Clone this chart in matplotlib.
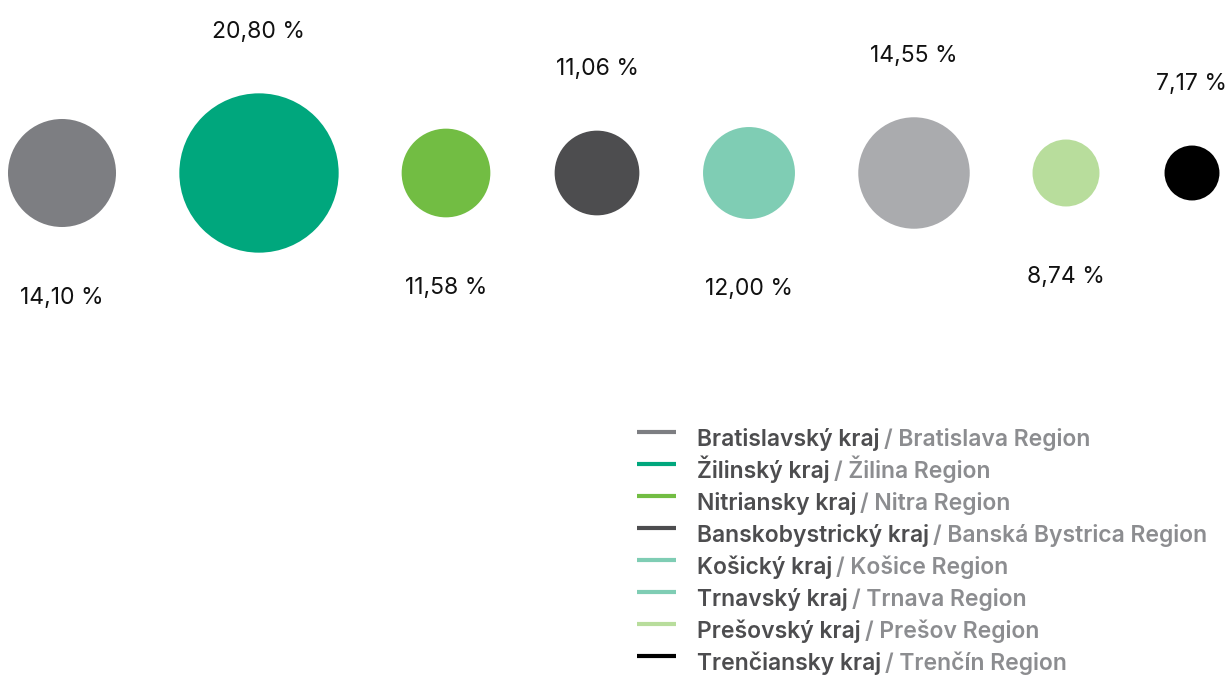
import matplotlib.pyplot as plt
from matplotlib.patches import Circle

# data
regions_sk = ["Bratislavský kraj", "Žilinský kraj", "Nitriansky kraj", "Banskobystrický kraj",
              "Košický kraj", "Trnavský kraj", "Prešovský kraj", "Trenčiansky kraj"]
regions_en = ["Bratislava Region", "Žilina Region", "Nitra Region", "Banská Bystrica Region",
              "Košice Region", "Trnava Region", "Prešov Region", "Trenčín Region"]
shares = [14.10, 20.80, 11.58, 11.06, 12.00, 14.55, 8.74, 7.17]
labels = ["14,10 %", "20,80 %", "11,58 %", "11,06 %", "12,00 %", "14,55 %", "8,74 %", "7,17 %"]

circle_colors = ["#7d7e82", "#00a77d", "#72bd43", "#4d4d4f", "#7fcdb4", "#aaabae", "#b8dd9c", "#000000"]
legend_colors = ["#7d7e82", "#00a77d", "#72bd43", "#4d4d4f", "#7fcdb4", "#7fcdb4", "#b8dd9c", "#000000"]

# layout (pixels)
cx = [62, 259, 446, 597, 749, 914, 1066, 1192]
cy = 173
scale = 3.83

plt.rcParams['font.family'] = ['Inter', 'DejaVu Sans']

fig = plt.figure(figsize=(12.29, 6.75), dpi=100)
ax = fig.add_axes([0, 0, 1, 1])
ax.set_xlim(0, 1229)
ax.set_ylim(675, 0)
ax.set_aspect('equal')
ax.axis('off')

for i, v in enumerate(shares):
    r = v * scale
    ax.add_patch(Circle((cx[i], cy), r, color=circle_colors[i], lw=0))
    if i % 2 == 0:
        ty = cy + r + 70.5
    else:
        ty = cy - r - 61.5
    ax.text(cx[i], ty, labels[i], ha='center', va='center', fontsize=16.5, color='#111111')

# legend
fig.canvas.draw()
renderer = fig.canvas.get_renderer()
for i in range(len(regions_sk)):
    y = 446 + 32 * i
    ax.plot([637, 676], [y - 14, y - 14], color=legend_colors[i], lw=3, solid_capstyle='butt')
    t = ax.text(697, y, regions_sk[i], ha='left', va='baseline', fontsize=16.5,
                fontweight='semibold', color='#4d4d4f')
    bb = t.get_window_extent(renderer)
    x2 = ax.transData.inverted().transform((bb.x1, 0))[0]
    ax.text(x2 + 4, y, "/ " + regions_en[i], ha='left', va='baseline', fontsize=16.5,
            fontweight='semibold', color='#8c8d90')

plt.savefig('out.png', dpi=100)
